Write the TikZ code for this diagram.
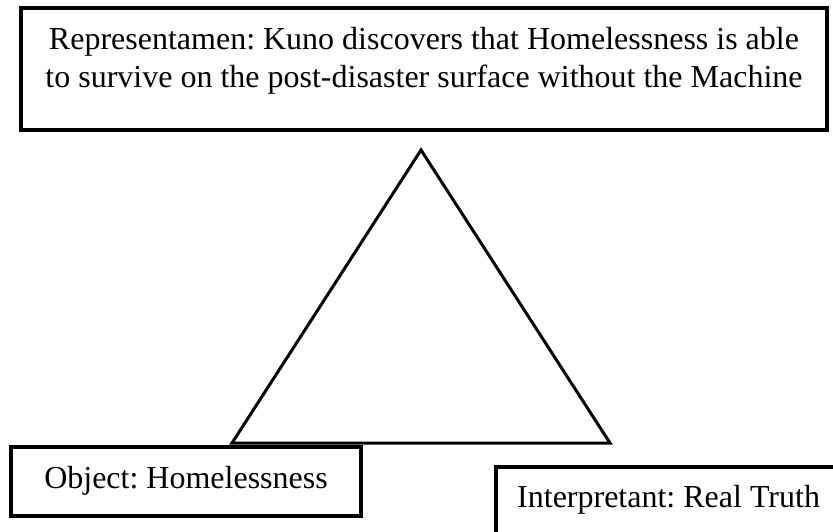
\documentclass[tikz,border=0pt]{standalone}
\usepackage{fontspec}
\setmainfont{Liberation Serif}
\frenchspacing
\begin{document}
\begin{tikzpicture}[x=1pt,y=-1pt,
  frame/.style={draw=black,line width=4pt,inner sep=0pt},
  label/.style={inner sep=0pt,font=\fontsize{32}{38.5}\selectfont},
  tri/.style={draw=black,line width=3pt,line join=miter}]
  \useasboundingbox[fill=white] (0,0) rectangle (833,531);
  \clip (0,0) rectangle (833,531);

  % the three frames of the sign
  \node[frame,minimum width=806pt,minimum height=122pt] (rep) at (424,69) {};
  \node[frame,minimum width=350pt,minimum height=69pt] (obj) at (186,481.5) {};
  \node[frame,anchor=north west,minimum width=342pt,minimum height=83pt] (interp) at (494,465) {};

  % their texts
  \node[label,align=center] (reptext) at (424,61)
    {Representamen: Kuno discovers that Homelessness is able\\
     to survive on the post-disaster surface without the Machine};
  \node[label,anchor=base] (objtext) at (186,488) {Object: Homelessness};
  \node[label,anchor=base west] (interptext) at (517,507) {Interpretant: Real Truth};

  % the semiotic triangle
  \coordinate (apex) at (421,150);
  \coordinate (left) at (232,443);
  \coordinate (right) at (610,443);
  \draw[tri] (apex) -- (right) -- (left) -- cycle;
\end{tikzpicture}
\end{document}
